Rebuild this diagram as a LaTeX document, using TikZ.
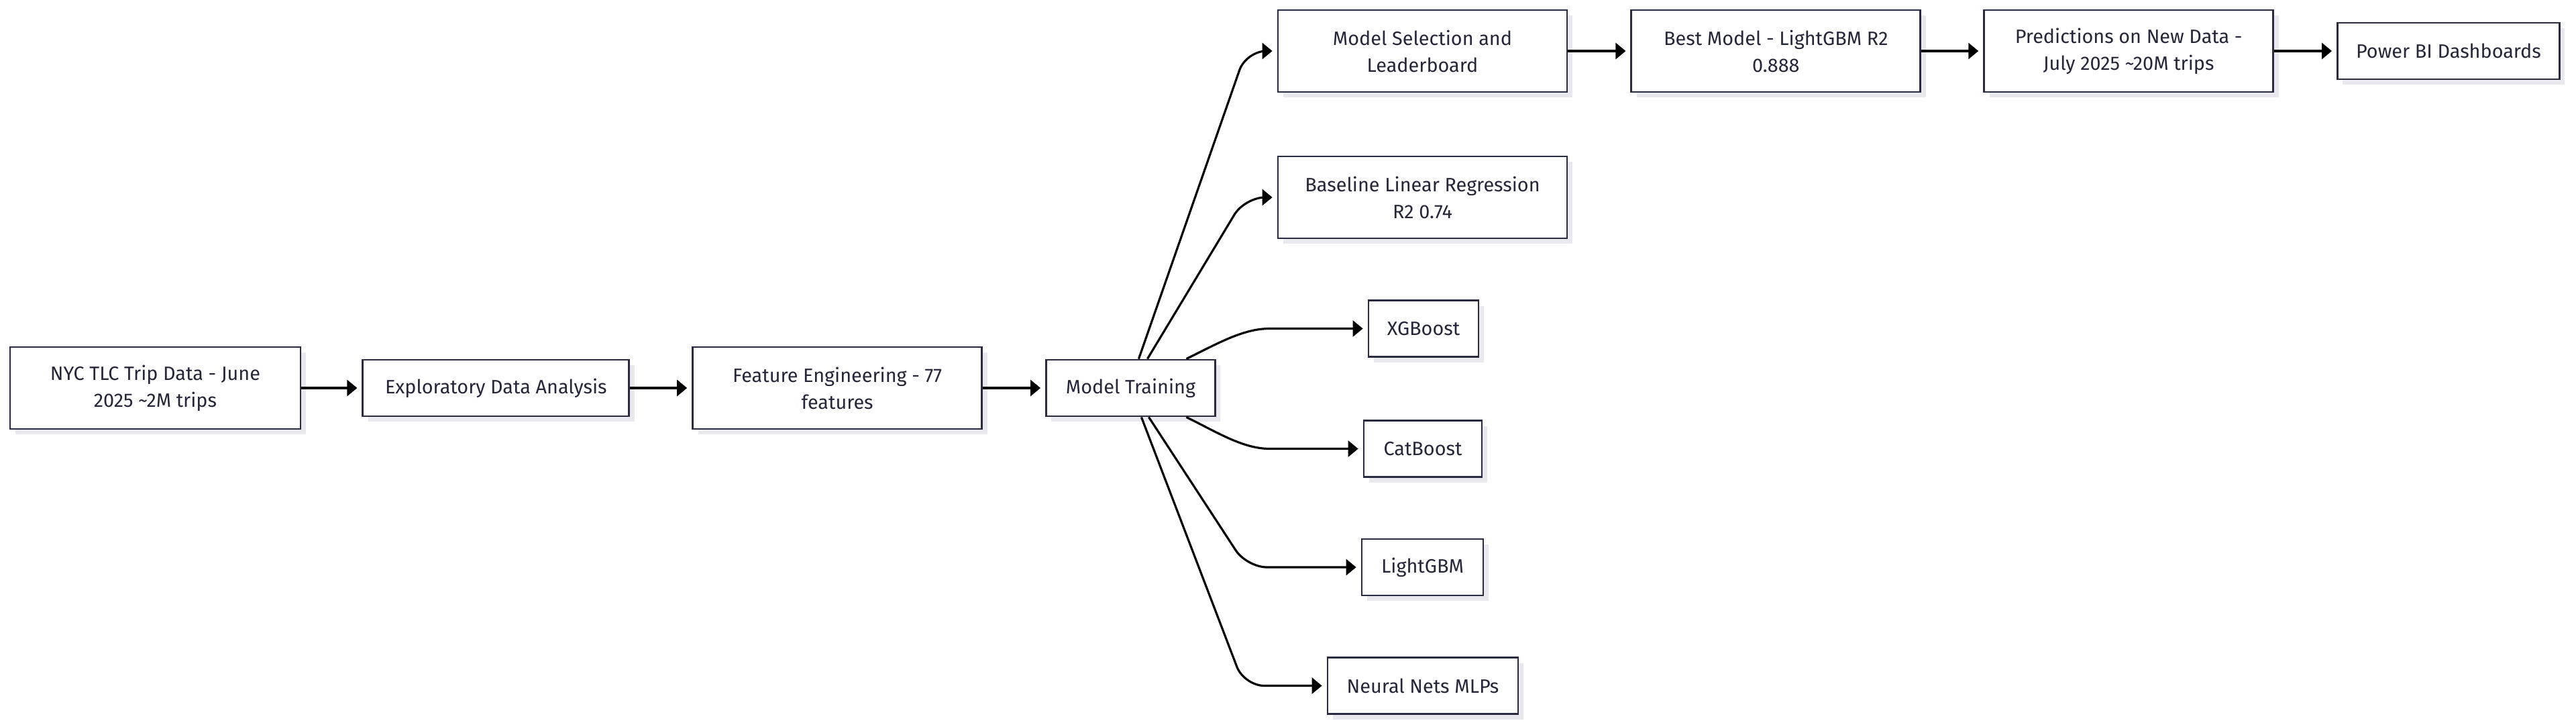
\documentclass[tikz,border=0pt]{standalone}
\usepackage{fontspec}
\setmainfont{Fira Sans}
\usetikzlibrary{positioning, calc, arrows.meta, shadows}

\definecolor{boxline}{RGB}{42,42,64}
\definecolor{boxtext}{RGB}{38,38,58}
\definecolor{shade}{RGB}{232,232,238}

\tikzset{
  box/.style={draw=boxline, line width=0.8pt, fill=white, text=boxtext, align=center,
    minimum height=0.84cm, inner sep=0pt, font=\fontsize{8.2}{11.4}\selectfont,
    drop shadow={shadow xshift=0.08cm, shadow yshift=-0.08cm, fill=shade, opacity=1}},
  tall/.style={minimum height=1.22cm},
  arr/.style={-{Triangle[length=1.5mm,width=2.4mm]}, line width=0.9pt, black, shorten >=0.7mm},
}

\begin{document}
\begin{tikzpicture}
    \useasboundingbox (0,0) rectangle (38.4,-10.82);

    % Draw the main pipeline
    \node[box, tall, minimum width=4.33cm] (trip) at (2.315,-5.78) {NYC TLC Trip Data - June\\2025 \textasciitilde2M trips};
    \node[box, minimum width=3.97cm, right=0.90cm of trip] (eda) {Exploratory Data Analysis};
    \node[box, tall, minimum width=4.31cm, right=0.92cm of eda] (feat) {Feature Engineering - 77\\features};
    \node[box, minimum width=2.52cm, right=0.93cm of feat] (train) {Model Training};

    % Draw the models column
    \node[box, tall, minimum width=4.31cm] (select) at (21.205,-0.76) {Model Selection and\\Leaderboard};
    \node[box, tall, minimum width=4.31cm] (blr) at (21.205,-2.94) {Baseline Linear Regression\\R2 0.74};
    \node[box, minimum width=1.64cm] (xgb) at (21.22,-4.895) {XGBoost};
    \node[box, minimum width=1.76cm] (cat) at (21.21,-6.685) {CatBoost};
    \node[box, minimum width=1.81cm] (lgbm) at (21.205,-8.45) {LightGBM};
    \node[box, minimum width=2.84cm] (nn) at (21.21,-10.215) {Neural Nets MLPs};

    % Draw the top row
    \node[box, tall, minimum width=4.31cm, right=0.93cm of select] (best) {Best Model - LightGBM R2\\0.888};
    \node[box, tall, minimum width=4.31cm, right=0.92cm of best] (pred) {Predictions on New Data -\\July 2025 \textasciitilde20M trips};
    \node[box, minimum width=3.31cm, right=0.93cm of pred] (pbi) {Power BI Dashboards};

    % Connect the pipeline
    \draw[arr] (trip) -- (eda);
    \draw[arr] (eda) -- (feat);
    \draw[arr] (feat) -- (train);
    \draw[arr] (select) -- (best);
    \draw[arr] (best) -- (pred);
    \draw[arr] (pred) -- (pbi);

    % Fan out from training
    \draw[arr, rounded corners=3mm] ($(train.north)+(0.12,0)$) -- ($(select.west)+(-0.46,0)$) -- (select.west);
    \draw[arr, rounded corners=3mm] ($(train.north)+(0.25,0)$) -- ($(blr.west)+(-0.48,0)$) -- (blr.west);
    \draw[arr] ($(train.north)+(0.83,0)$) .. controls +(0.45,0.22) and +(-0.4,0) .. ($(xgb.west)+(-1.46,0)$) -- (xgb.west);
    \draw[arr] ($(train.south)+(0.83,0)$) .. controls +(0.45,-0.22) and +(-0.4,0) .. ($(cat.west)+(-1.39,0)$) -- (cat.west);
    \draw[arr, rounded corners=3mm] ($(train.south)+(0.27,0)$) -- ($(lgbm.west)+(-1.70,0)$) -- (lgbm.west);
    \draw[arr, rounded corners=3mm] ($(train.south)+(0.16,0)$) -- ($(nn.west)+(-1.23,0)$) -- (nn.west);

\end{tikzpicture}
\end{document}
